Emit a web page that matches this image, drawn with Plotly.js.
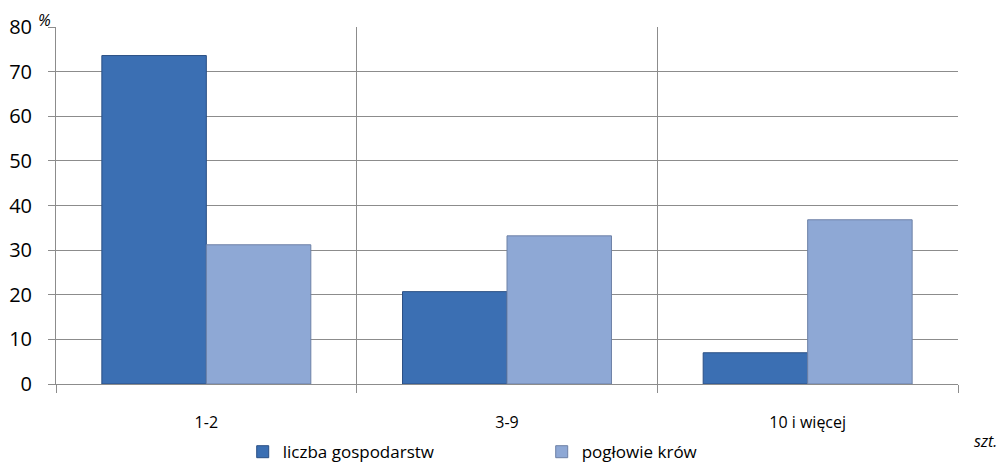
<!DOCTYPE html>
<html>
<head>
<meta charset="utf-8">
<script src="https://cdn.plot.ly/plotly-3.0.1.min.js"></script>
<style>html,body{margin:0;padding:0;background:#fff;}#chart{width:1005px;height:470px;}</style>
</head>
<body>
<div id="chart"></div>
<script>
const categories = ['1-2', '3-9', '10 i więcej'];
const seriesNames = ['liczba gospodarstw', 'pogłowie krów'];
const liczbaGospodarstw = [73.6, 20.7, 7.0];
const poglowieKrow = [31.2, 33.2, 36.8];
const yTicks = [0, 10, 20, 30, 40, 50, 60, 70, 80];

const font = 'Open Sans, Noto Sans, sans-serif';

const traces = [
  {type: 'bar', name: seriesNames[0], x: categories, y: liczbaGospodarstw,
   marker: {color: '#3b6fb3', line: {color: '#2a4f84', width: 1}}},
  {type: 'bar', name: seriesNames[1], x: categories, y: poglowieKrow,
   marker: {color: '#8ea8d5', line: {color: '#6d81a6', width: 1}}}
];

const layout = {
  width: 1005, height: 470,
  margin: {l: 56, r: 47, t: 27, b: 86, autoexpand: false},
  paper_bgcolor: '#fff', plot_bgcolor: '#fff',
  font: {family: font, color: '#000', size: 17},
  barmode: 'group', bargap: 0.305, bargroupgap: 0,
  showlegend: true,
  legend: {orientation: 'h', x: 0.207, xanchor: 'left', yref: 'container', y: 0.038, yanchor: 'middle',
           entrywidth: 254, entrywidthmode: 'pixels', font: {size: 17, family: font},
           itemwidth: 30},
  xaxis: {type: 'category', tickson: 'boundaries', ticks: 'outside', ticklen: 8, automargin: false,
          tickcolor: '#8c8c8c', showgrid: true, gridcolor: '#8c8c8c', gridwidth: 1,
          showline: true, linecolor: '#8c8c8c', linewidth: 1, mirror: false,
          tickfont: {size: 16}, ticklabelstandoff: 24, zeroline: false},
  yaxis: {range: [0, 80], tickvals: yTicks, ticks: 'outside', ticklen: 7, automargin: false,
          tickcolor: '#8c8c8c', showgrid: true, gridcolor: '#8c8c8c', gridwidth: 1,
          showline: true, linecolor: '#8c8c8c', linewidth: 1, zeroline: false,
          tickfont: {size: 20}, ticklabelstandoff: 12},
  annotations: [
    {text: '%', xref: 'paper', yref: 'paper', x: -0.013, y: 1.0, xanchor: 'center', yanchor: 'bottom',
     showarrow: false, font: {size: 16, style: 'italic'}, yshift: -6},
    {text: 'szt.', xref: 'paper', yref: 'paper', x: 1.03, y: -0.16, xanchor: 'center', yanchor: 'middle',
     showarrow: false, font: {size: 16, style: 'italic'}}
  ]
};

Plotly.newPlot('chart', traces, layout, {displayModeBar: false, staticPlot: true});
</script>
</body>
</html>
